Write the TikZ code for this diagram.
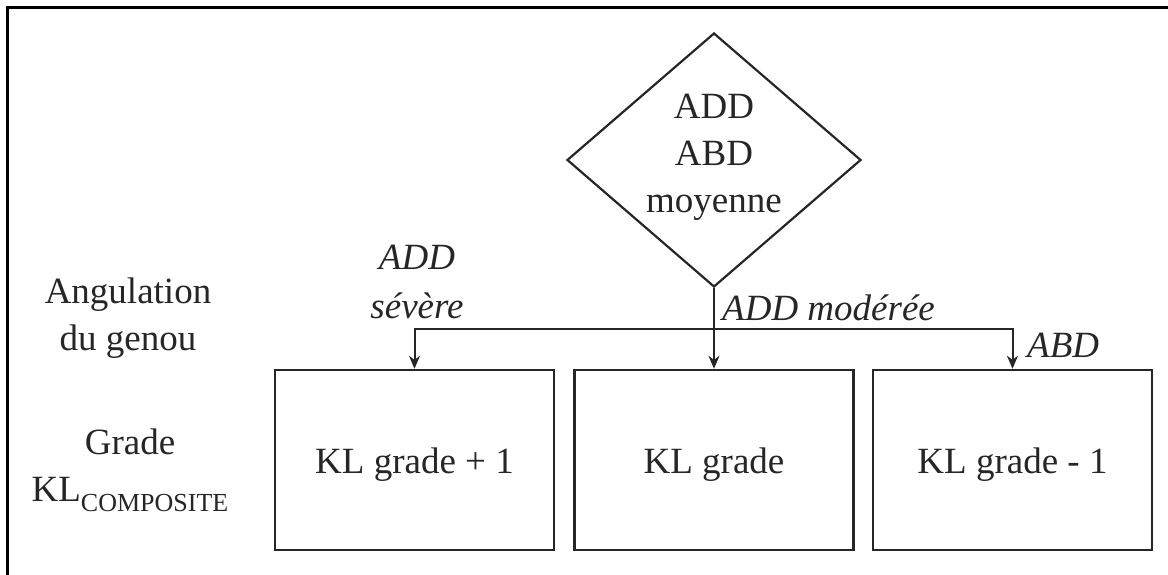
\documentclass[tikz,border=0pt]{standalone}
\usepackage{fontspec}
\setmainfont{Liberation Serif}
\usetikzlibrary{shapes.geometric,arrows.meta}
\definecolor{ink}{HTML}{262626}
\tikzset{
  boxnode/.style={draw=ink, line width=2.5pt, minimum width=279pt, minimum height=180pt, inner sep=0pt, text=ink, text height=26pt, text depth=-4pt},
  decision/.style={draw=ink, line width=2.2pt, shape=diamond, aspect=1.16, minimum width=294pt, minimum height=254pt, inner sep=0pt, align=center, text=ink, text depth=14pt},
  lbl/.style={inner sep=0pt, text=ink, align=center},
  conn/.style={draw=ink, line width=2pt, -{Stealth[length=13pt,width=11pt]}},
  plain/.style={draw=ink, line width=2pt}
}
\begin{document}
\begin{tikzpicture}[x=1pt,y=-1pt, font=\fontsize{37}{47}\selectfont]
\useasboundingbox (0,0) rectangle (1168,575);
% partial frame
\coordinate (ftr) at (1168,8);
\coordinate (ftl) at (7,8);
\coordinate (fbl) at (7,575);
\draw[line width=3pt, black] (ftr) -- (ftl) -- (fbl);
% diamond
\node[decision] (dia) at (714,160) {ADD\\ABD\\moyenne};
% boxes
\node[boxnode] (b1) at (414.5,460) {KL grade + 1};
\node[boxnode] (b2) at (714,460) {KL grade};
\node[boxnode] (b3) at (1012.5,460) {KL grade - 1};
% connectors
\coordinate (j) at (714,329);
\draw[conn] (dia.south) -- (b2.north);
\draw[conn] (j) -| (b1.north);
\draw[conn] (j) -| (b3.north);
% edge labels
\node[lbl, font=\fontsize{37}{49}\selectfont\itshape, anchor=center] (lsev) at (417,282) {ADD\\sévère};
\node[lbl, font=\fontsize{37}{47}\selectfont\itshape, anchor=base west] (lmod) at (722,320) {ADD modérée};
\node[lbl, font=\fontsize{37}{47}\selectfont\itshape, anchor=base west] (labd) at (1027,357) {ABD};
% row labels
\node[lbl, anchor=center] (rang) at (128,318) {Angulation\\du genou};
\node[lbl, anchor=center] (rgrade) at (130,470) {Grade\\KL\raisebox{-10pt}{\fontsize{26}{26}\selectfont COMPOSITE}};
\end{tikzpicture}
\end{document}
